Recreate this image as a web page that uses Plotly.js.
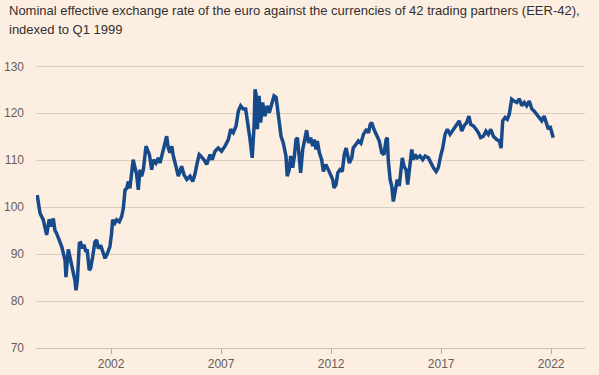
<!DOCTYPE html>
<html>
<head>
<meta charset="utf-8">
<script src="https://cdn.plot.ly/plotly-3.0.1.min.js"></script>
<style>html,body{margin:0;padding:0;background:#fdeee2;}#chart{width:599px;height:375px;}</style>
</head>
<body>
<div id="chart"></div>
<script>
const dates = [
"1999-01-04","1999-02-20","1999-04-15","1999-06-10","1999-07-22","1999-09-01","1999-09-28","1999-10-25","1999-11-22",
"2000-01-06","2000-02-15","2000-04-10","2000-04-25","2000-06-03","2000-07-12","2000-08-15","2000-09-21","2000-10-09","2000-11-01","2000-12-04","2000-12-25",
"2001-01-28","2001-02-18","2001-03-22","2001-04-13","2001-05-16","2001-06-09","2001-07-12","2001-08-19","2001-09-18","2001-10-13","2001-11-22","2001-12-25",
"2002-02-03","2002-03-10","2002-04-25","2002-05-22","2002-06-09","2002-07-16","2002-08-15","2002-09-28","2002-11-06","2002-12-04",
"2003-01-01","2003-01-28","2003-02-25","2003-03-22","2003-04-22","2003-05-16","2003-06-15","2003-07-12","2003-08-09","2003-09-06","2003-10-03","2003-11-01","2003-12-15",
"2004-01-06","2004-02-09","2004-03-18","2004-04-15","2004-05-28","2004-07-06","2004-08-03","2004-09-28","2004-11-22","2004-12-18",
"2005-01-16","2005-02-15","2005-03-12","2005-04-25","2005-06-03","2005-07-28","2005-09-06","2005-10-22","2005-12-15",
"2006-01-28","2006-03-06","2006-04-12","2006-05-16","2006-06-10","2006-08-04","2006-09-18","2006-11-12","2006-12-18",
"2007-02-03","2007-03-28","2007-05-22","2007-07-18","2007-09-12","2007-10-21","2007-12-03",
"2008-01-18","2008-02-25","2008-04-03","2008-05-16","2008-06-25","2008-08-09","2008-09-06","2008-10-12","2008-11-12","2008-11-28","2008-12-15",
"2009-01-06","2009-02-03","2009-03-01","2009-04-03","2009-05-12","2009-06-18","2009-07-22","2009-09-01","2009-10-09","2009-11-12","2009-12-03",
"2010-01-06","2010-02-03","2010-03-12","2010-04-25","2010-05-16","2010-06-18","2010-07-12","2010-08-15","2010-09-12","2010-10-09","2010-11-01","2010-11-28","2010-12-25",
"2011-01-28","2011-03-06","2011-04-03","2011-05-06","2011-06-09","2011-07-12","2011-08-09","2011-09-06","2011-09-28","2011-11-01","2011-12-09",
"2012-01-06","2012-02-15","2012-03-28","2012-05-06","2012-06-09","2012-07-01","2012-08-03","2012-09-01","2012-10-09","2012-11-15","2012-12-18",
"2013-01-18","2013-02-15","2013-03-12","2013-04-21","2013-05-16","2013-07-01","2013-08-09","2013-09-20","2013-11-01","2013-12-25",
"2014-01-25","2014-02-21","2014-03-18","2014-04-25","2014-06-09","2014-07-22","2014-09-01","2014-10-09","2014-11-12","2014-12-03","2014-12-18",
"2015-01-18","2015-02-15","2015-03-12","2015-03-28","2015-04-21","2015-05-16","2015-06-18","2015-07-12","2015-08-09","2015-09-06","2015-10-09","2015-11-06","2015-12-03",
"2016-01-12","2016-02-09","2016-03-06","2016-04-12","2016-05-28","2016-07-12","2016-08-21","2016-10-15","2016-11-22",
"2017-01-06","2017-02-21","2017-03-28","2017-05-06","2017-06-09","2017-07-18","2017-08-25","2017-10-09","2017-12-03",
"2018-01-28","2018-03-12","2018-04-21","2018-05-28","2018-07-12","2018-08-18","2018-09-18","2018-11-01","2018-12-15",
"2019-01-21","2019-03-01","2019-04-15","2019-05-28","2019-07-06","2019-08-15","2019-09-28","2019-11-22",
"2020-01-06","2020-02-03","2020-03-01","2020-04-09","2020-05-16","2020-06-18","2020-07-28","2020-09-06","2020-10-21","2020-12-03",
"2021-01-12","2021-02-21","2021-04-03","2021-05-16","2021-06-28","2021-08-03","2021-09-18","2021-11-01","2021-12-09",
"2022-01-18","2022-02-21","2022-03-28","2022-04-25","2022-05-22","2022-06-18"
];
const eer42 = [
102.6,98.7,97.3,94.1,97.4,95.9,97.6,95.1,94.4,
93.0,91.6,88.7,85.1,91.0,88.7,85.9,84.4,82.3,84.5,92.3,92.4,
91.2,92.0,90.5,91.0,86.6,87.0,89.4,92.6,93.0,91.2,91.9,90.5,
89.1,90.0,91.6,94.4,97.3,96.6,97.3,96.9,98.0,99.8,
103.7,104.0,105.5,104.0,107.3,110.1,108.4,107.0,103.7,108.0,106.6,108.0,113.0,
112.3,111.2,108.0,110.1,109.4,110.5,109.4,112.3,115.1,112.6,
111.6,113.0,110.9,108.7,106.6,108.7,106.9,105.9,106.6,
105.5,107.0,109.4,111.2,110.9,110.1,109.1,111.2,110.1,
111.9,112.6,111.9,113.0,114.4,116.6,115.9,
117.3,120.5,121.6,120.9,120.9,117.3,114.4,110.5,117.3,125.1,124.0,
116.6,123.7,118.0,122.3,119.4,121.6,120.1,122.3,123.7,123.4,121.6,
117.6,115.1,113.7,110.9,106.6,108.0,110.9,108.4,110.9,114.4,114.8,110.1,107.3,
112.3,114.4,116.4,113.7,114.8,113.0,114.4,112.3,114.1,111.6,110.1,
107.6,109.1,108.0,106.9,105.9,104.1,104.8,107.3,108.0,107.6,111.2,
112.6,110.9,109.4,110.5,112.6,113.4,114.1,113.6,115.5,116.6,
115.8,117.6,118.0,116.6,115.5,114.1,111.6,111.2,114.4,114.8,110.1,
105.9,104.4,101.2,102.3,103.7,105.9,104.5,106.9,110.5,108.7,108.0,104.8,108.0,
112.3,110.1,111.2,110.5,110.9,110.1,110.9,110.5,109.4,
108.4,107.6,108.4,110.9,112.6,115.5,116.6,115.5,116.6,
117.6,118.4,116.2,117.3,118.0,119.4,117.6,117.3,116.6,
115.9,114.8,115.1,116.2,115.5,116.6,115.1,114.4,
114.1,112.6,118.4,119.1,118.7,119.8,123.0,122.6,122.3,123.1,
121.6,122.3,121.6,122.6,120.9,120.5,119.8,119.1,118.4,
119.4,118.0,116.6,117.3,116.2,114.8
];
const yTicks = [70,80,90,100,110,120,130];
const xTickLabels = ["2002","2007","2012","2017","2022"];
const xTickPositions = ["2002-05-14","2007-05-14","2012-05-14","2017-05-14","2022-05-14"];
const titleLines = [
  "Nominal effective exchange rate of the euro against the currencies of 42 trading partners (EER-42),",
  "indexed to Q1 1999"
];

const bg = "#fdeee2";
const grid = "#dbcdc1";
const tickFontColor = "#66605c";
const titleFont = {family: "'Liberation Sans', Arial, sans-serif", size: 13, color: "#33302e"};

const trace = {
  x: dates, y: eer42, type: "scatter", mode: "lines",
  line: {color: "#174a8b", width: 3.5, shape: "linear"},
  hoverinfo: "skip"
};

// plot area: top 64px, bottom 348px (height 284)
const pxToPaperY = py => (348 - py) / 284;

const layout = {
  width: 599, height: 375,
  paper_bgcolor: bg, plot_bgcolor: bg,
  margin: {l: 36, r: 14, t: 64, b: 27, pad: 0},
  showlegend: false,
  annotations: [
    {text: titleLines[0], showarrow: false, xref: "paper", yref: "paper",
     x: (7 - 36) / 549, xanchor: "left", y: pxToPaperY(11), yanchor: "middle",
     align: "left", font: titleFont},
    {text: titleLines[1], showarrow: false, xref: "paper", yref: "paper",
     x: (7 - 36) / 549, xanchor: "left", y: pxToPaperY(30), yanchor: "middle",
     align: "left", font: titleFont}
  ],
  xaxis: {
    type: "date",
    range: ["1998-12-15", "2023-11-27"],
    tickmode: "array", tickvals: xTickPositions, ticktext: xTickLabels,
    showgrid: false, zeroline: false,
    showline: true, linecolor: "#cbbdb1", linewidth: 1,
    ticks: "outside", ticklen: 5, tickwidth: 1, tickcolor: "#b8aaa0",
    tickfont: {family: "'Liberation Sans', sans-serif", size: 12, color: tickFontColor}
  },
  yaxis: {
    range: [70, 130.5],
    tickmode: "array", tickvals: yTicks, ticktext: yTicks.map(String),
    showgrid: true, gridcolor: grid, gridwidth: 1,
    zeroline: false, showline: false, ticks: "",
    ticklabelstandoff: 11,
    tickfont: {family: "'Liberation Sans', sans-serif", size: 12, color: tickFontColor}
  }
};

Plotly.newPlot("chart", [trace], layout, {displayModeBar: false, staticPlot: true});
</script>
</body>
</html>
